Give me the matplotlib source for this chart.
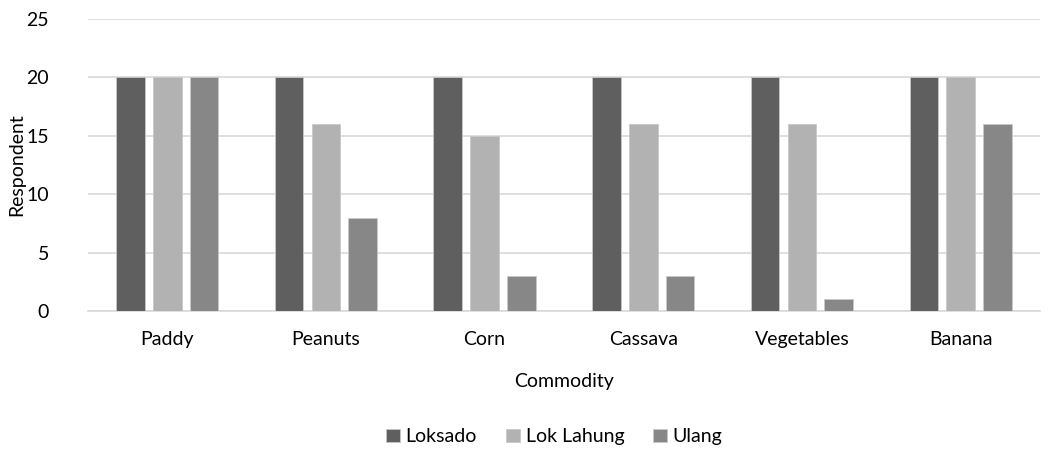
import numpy as np
import matplotlib
matplotlib.use("Agg")
import matplotlib.pyplot as plt

# ====== data ======
commodities = ["Paddy", "Peanuts", "Corn", "Cassava", "Vegetables", "Banana"]
loksado = [20, 20, 20, 20, 20, 20]
lok_lahung = [20, 16, 15, 16, 16, 20]
ulang = [20, 8, 3, 3, 1, 16]

series = [("Loksado", loksado, "#5f5f5f"),
          ("Lok Lahung", lok_lahung, "#b2b2b2"),
          ("Ulang", ulang, "#878787")]

plt.rcParams['font.family'] = ['Lato', 'DejaVu Sans']
FS = 14

fig = plt.figure(figsize=(10.59, 4.61), dpi=100)
ax = fig.add_axes([0.083, 0.325, 0.899, 0.634])

x = np.arange(len(commodities))
width = 0.18
step = 0.232
for i, (name, vals, col) in enumerate(series):
    ax.bar(x + (i - 1) * step, vals, width, color=col, label=name,
           edgecolor="#c8c8c8", linewidth=0.6, zorder=3)

ax.set_xlim(-0.5, len(commodities) - 0.5)
ax.set_ylim(0, 25)
ax.set_yticks(range(0, 26, 5))
ax.set_xticks(x)
ax.set_xticklabels(commodities)
ax.grid(axis='y', color="#d9d9d9", linewidth=1.2, zorder=0)
for s in ["top", "right", "left"]:
    ax.spines[s].set_visible(False)
ax.spines["bottom"].set_color("#d9d9d9")
ax.spines["bottom"].set_linewidth(1.2)
ax.tick_params(axis='both', length=0, labelsize=FS, colors="#404040", labelcolor="#000000")
ax.tick_params(axis='x', pad=14)
ax.tick_params(axis='y', pad=28)
ax.set_xlabel("Commodity", fontsize=FS, labelpad=18)
ax.set_ylabel("Respondent", fontsize=FS, labelpad=1)

ax.legend(loc="center", bbox_to_anchor=(0.49, -0.43), ncol=3, frameon=False,
          fontsize=FS, handlelength=0.7, handleheight=0.7, handletextpad=0.3,
          columnspacing=1.5)

fig.savefig("out.png", dpi=100)
